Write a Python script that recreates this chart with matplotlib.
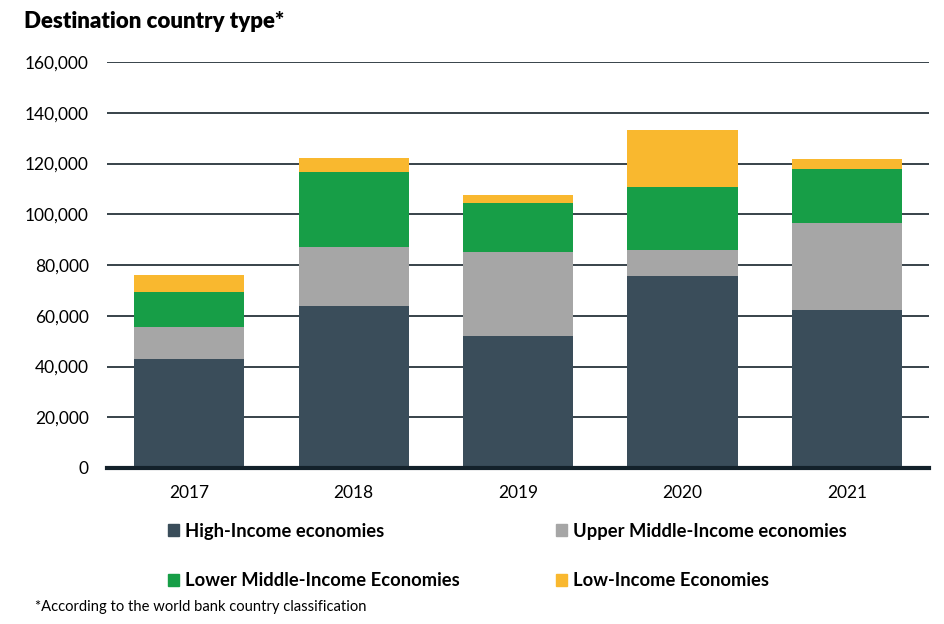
import matplotlib.pyplot as plt
import matplotlib.patches as mpatches
from matplotlib.ticker import FuncFormatter
import numpy as np

plt.rcParams['font.family'] = ['Lato', 'DejaVu Sans']

years = ['2017', '2018', '2019', '2020', '2021']
high_income = [42900, 63800, 52000, 75600, 62200]
upper_middle = [12600, 23200, 33100, 10300, 34300]
lower_middle = [13800, 29600, 19300, 24800, 21300]
low_income = [6700, 5500, 3100, 22400, 3900]

series_names = ['High-Income economies', 'Upper Middle-Income economies',
                'Lower Middle-Income Economies', 'Low-Income Economies']
colors = ['#3A4D5A', '#A6A6A6', '#179E47', '#F9B82F']

fig = plt.figure(figsize=(9.44, 6.24), dpi=100)
ax = fig.add_axes([0.1133, 0.25, 0.871, 0.6506])

x = np.arange(len(years))
bottom = np.zeros(len(years))
for vals, c in zip([high_income, upper_middle, lower_middle, low_income], colors):
    ax.bar(x, vals, bottom=bottom, width=0.67, color=c, zorder=3)
    bottom += np.array(vals)

ax.set_xlim(-0.5, 4.5)
ax.set_ylim(0, 160000)
ax.set_yticks(np.arange(0, 160001, 20000))
ax.yaxis.set_major_formatter(FuncFormatter(lambda v, p: f'{int(v):,}'))
ax.set_xticks(x)
ax.set_xticklabels(years)
ax.grid(axis='y', color='#15222B', linewidth=1.2, zorder=0)
for s in ['top', 'right', 'left']:
    ax.spines[s].set_visible(False)
ax.spines['bottom'].set_color('#13212A')
ax.spines['bottom'].set_linewidth(3)
ax.spines['bottom'].set_zorder(4)
ax.tick_params(axis='both', length=0, labelsize=12.5, colors='black')
ax.tick_params(axis='y', pad=13)
ax.tick_params(axis='x', pad=12)

fig.text(24 / 944, 1 - 22 / 624, 'Destination country type*', fontsize=16,
         fontweight='heavy', va='center', ha='left')

# legend entries placed in a 2x2 grid
pos = [(168, 531), (556, 531), (168, 581), (556, 581)]
for name, c, (px, py) in zip(series_names, colors, pos):
    h = mpatches.Patch(color=c)
    fig.legend([h], [name], loc='center left',
               bbox_to_anchor=(px / 944, 1 - py / 624), frameon=False,
               handlelength=0.6, handleheight=0.6, handletextpad=0.35,
               borderpad=0, borderaxespad=0,
               prop={'size': 13.2, 'weight': 'bold'})

fig.text(35 / 944, 1 - 607 / 624, '*According to the world bank country classification',
         fontsize=10.6, va='center', ha='left')

fig.savefig('out.png', dpi=100)
